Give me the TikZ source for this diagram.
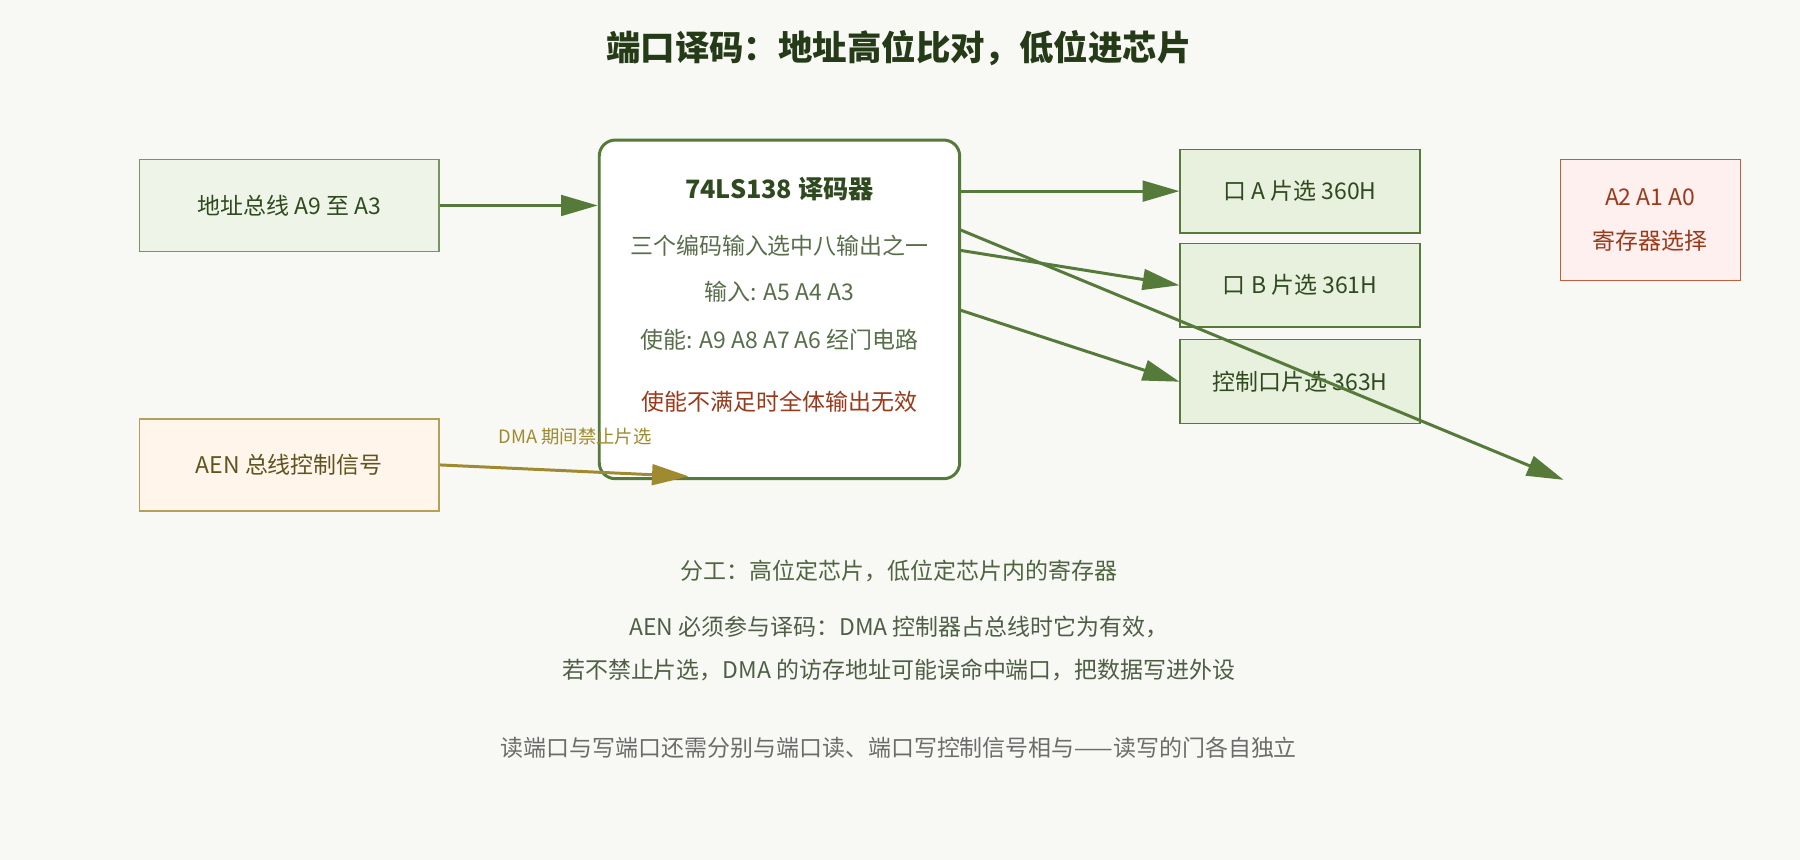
\documentclass[tikz,border=0pt]{standalone}
\usepackage{fontspec}
\setmainfont{Noto Sans CJK SC}
\usetikzlibrary{arrows.meta}
\definecolor{bg}{HTML}{F8F8F5}
\definecolor{gline}{HTML}{557A3A}
\definecolor{gdark}{HTML}{2F4A1E}
\definecolor{gfill}{HTML}{E8F0DE}
\definecolor{olive}{HTML}{A08A30}
\definecolor{rline}{HTML}{C0603A}
\definecolor{rtext}{HTML}{9A3A1A}
\begin{document}
\begin{tikzpicture}[x=0.5pt,y=-0.5pt,font=\fontsize{10}{12}\selectfont]
\tikzset{inbox/.style={draw=gline!80,fill=gfill!70,line width=0.6pt,minimum width=130.5pt,minimum height=40pt,text=gdark}}
\tikzset{outbox/.style={draw=gline,fill=gfill,line width=0.6pt,minimum width=104.5pt,minimum height=36.5pt,text=gdark}}
\tikzset{sig/.style={-{Triangle[length=16pt,width=9pt]},line width=1.3pt,draw=gline}}

\fill[bg] (0,0) rectangle (1568,749);
\node[font=\fontsize{15}{18}\selectfont\bfseries,text=gdark!80!black] (title) at (783,42) {端口译码：地址高位比对，低位进芯片};

\node[inbox] (addr) at (252,179) {地址总线 A9 至 A3};
\node[inbox,draw=olive!80,fill=orange!8,text=olive!60!black] (aen) at (252,405) {AEN 总线控制信号};

\node[draw=gline,line width=1.3pt,rounded corners=7pt,fill=white,minimum width=157pt,minimum height=147.5pt] (dec) at (679,269.5) {};
\node[font=\fontsize{11}{13}\selectfont\bfseries,text=gdark] (decname) at (679,165) {74LS138 译码器};
\node[text=gdark!80] (dec1) at (679,214) {三个编码输入选中八输出之一};
\node[text=gdark!80] (dec2) at (679,254) {输入: A5 A4 A3};
\node[text=gdark!80] (dec3) at (679,296) {使能: A9 A8 A7 A6 经门电路};
\node[text=rtext] (dec4) at (679,350) {使能不满足时全体输出无效};

\node[outbox] (pa) at (1132.5,166.5) {口 A 片选 360H};
\node[outbox] (pb) at (1132.5,248.5) {口 B 片选 361H};
\node[outbox] (pc) at (1132.5,332.5) {控制口片选 363H};

\node[draw=rline,fill=red!6,minimum width=78.5pt,minimum height=52.5pt,align=center,text=rtext,font=\fontsize{10}{19}\selectfont] (reg) at (1437.5,191.5) {A2 A1 A0\\寄存器选择};

\coordinate (aenend) at (600,415);
\coordinate (farend) at (1362,418);
\draw[sig] (addr.east) -- (dec.west |- addr.east);
\draw[sig,draw=olive] (aen.east) -- (aenend);
\node[text=olive,font=\fontsize{8}{10}\selectfont] (dmalbl) at (501,380) {DMA 期间禁止片选};
\draw[sig] (dec.east |- pa.west) -- (pa.west);
\draw[sig] (836,218) -- (pb.west);
\draw[sig] (836,270) -- (pc.west);
\draw[sig] (836,200) -- (farend);

\node[text=gdark!85] (note1) at (783,497) {分工：高位定芯片，低位定芯片内的寄存器};
\node[text=gdark!60!gray,align=center,font=\fontsize{10}{18.5}\selectfont] (note2) at (783,565) {AEN 必须参与译码：DMA 控制器占总线时它为有效，\\若不禁止片选，DMA 的访存地址可能误命中端口，把数据写进外设};
\node[text=gray!85!black] (note3) at (783,651) {读端口与写端口还需分别与端口读、端口写控制信号相与——读写的门各自独立};
\end{tikzpicture}
\end{document}
